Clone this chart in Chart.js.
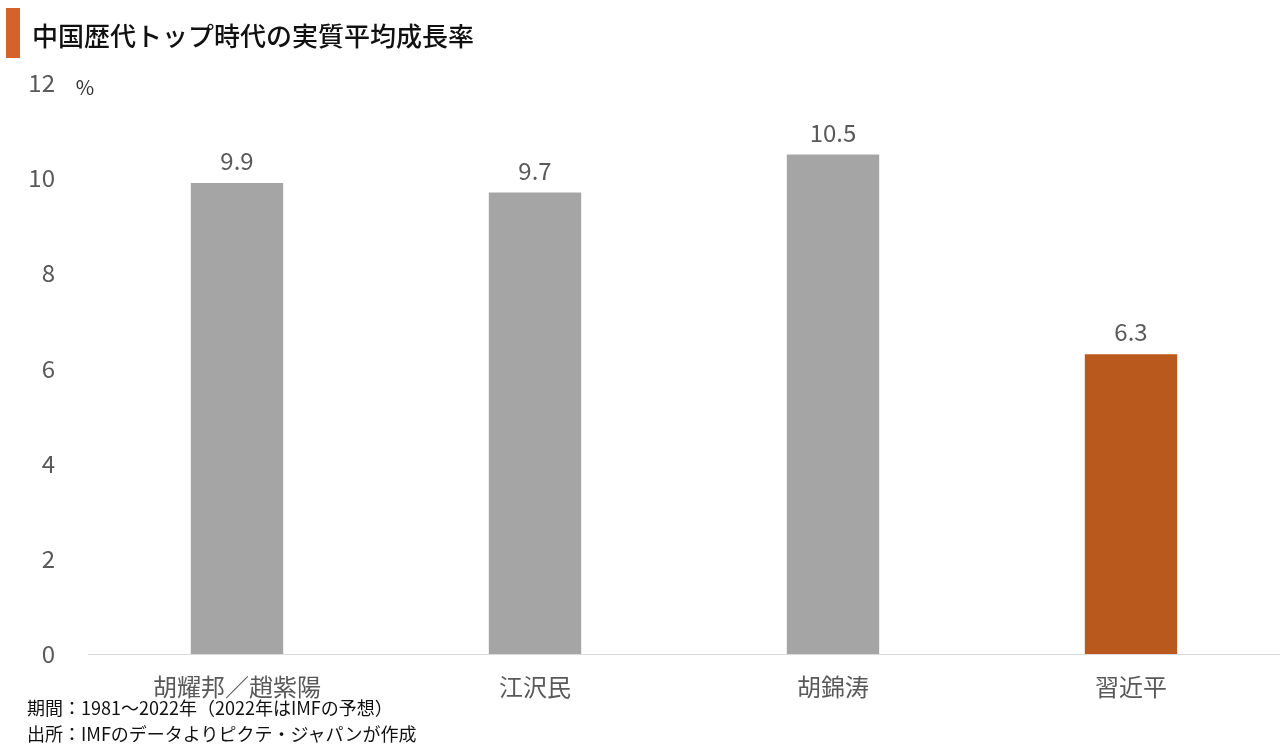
<!DOCTYPE html>
<html>
<head>
<meta charset="utf-8">
<script src="https://cdn.jsdelivr.net/npm/chart.js@4"></script>
<style>
    body { margin: 0; background: #fff; font-family: "Noto Sans CJK JP", sans-serif; }
    #wrap { position: relative; width: 1280px; height: 749px; }
    #titleBar { position: absolute; left: 6px; top: 8px; width: 14px; height: 50px; background: #d4622a; }
    #title { position: absolute; left: 32px; top: 15px; font-size: 26px; font-weight: 500; color: #111; line-height: 40px; }
    .note { position: absolute; left: 27px; font-size: 18px; color: #111; line-height: 24px; }
    canvas { position: absolute; left: 0; top: 0; }
</style>
</head>
<body>
<div id="wrap">
    <canvas id="growthChart" width="1280" height="749"></canvas>
    <div id="titleBar"></div>
    <div id="title">中国歴代トップ時代の実質平均成長率</div>
    <div class="note" style="top: 695px;">期間：1981～2022年（2022年はIMFの予想）</div>
    <div class="note" style="top: 721px;">出所：IMFのデータよりピクテ・ジャパンが作成</div>
</div>
<script>
const leaders = ['胡耀邦／趙紫陽', '江沢民', '胡錦涛', '習近平'];
const growthRates = [9.9, 9.7, 10.5, 6.3];
const barColors = ['#a5a5a5', '#a5a5a5', '#a5a5a5', '#ba591e'];
const yTicks = [0, 2, 4, 6, 8, 10, 12];

const fontFamily = '"Noto Sans CJK JP", sans-serif';

// 棒の上の数値と「%」を描く
const valueLabels = {
    id: 'valueLabels',
    afterDatasetsDraw(chart) {
        const ctx = chart.ctx;
        const meta = chart.getDatasetMeta(0);
        ctx.save();
        ctx.font = '24px ' + fontFamily;
        ctx.fillStyle = '#595959';
        ctx.textAlign = 'center';
        ctx.textBaseline = 'middle';
        meta.data.forEach((bar, i) => {
            ctx.fillText(growthRates[i].toFixed(1), bar.x, bar.y - 22);
        });
        const yScale = chart.scales.y;
        ctx.font = '20px ' + fontFamily;
        ctx.fillStyle = '#333';
        ctx.fillText('%', 85, yScale.getPixelForValue(12) + 4);
        ctx.restore();
    }
};

new Chart(document.getElementById('growthChart'), {
    type: 'bar',
    data: {
        labels: leaders,
        datasets: [{
            data: growthRates,
            backgroundColor: barColors,
            borderWidth: 0,
            barPercentage: 0.31,
            categoryPercentage: 1
        }]
    },
    options: {
        responsive: false,
        animation: false,
        layout: { padding: { top: 83, left: 0, right: 0, bottom: 45 } },
        plugins: { legend: { display: false }, tooltip: { enabled: false } },
        scales: {
            x: {
                grid: { display: false },
                border: { display: true, color: '#d9d9d9', width: 1 },
                ticks: { color: '#595959', font: { family: fontFamily, size: 24 }, padding: 10, maxRotation: 0 },
                afterFit: s => { s.height = 50; }
            },
            y: {
                min: 0,
                max: 12,
                grid: { display: false, drawTicks: false },
                border: { display: false },
                afterBuildTicks: s => { s.ticks = yTicks.map(v => ({ value: v })); },
                ticks: { color: '#595959', font: { family: fontFamily, size: 24 }, padding: 33 },
                afterFit: s => { s.width = 88; }
            }
        }
    },
    plugins: [valueLabels]
});
</script>
</body>
</html>
